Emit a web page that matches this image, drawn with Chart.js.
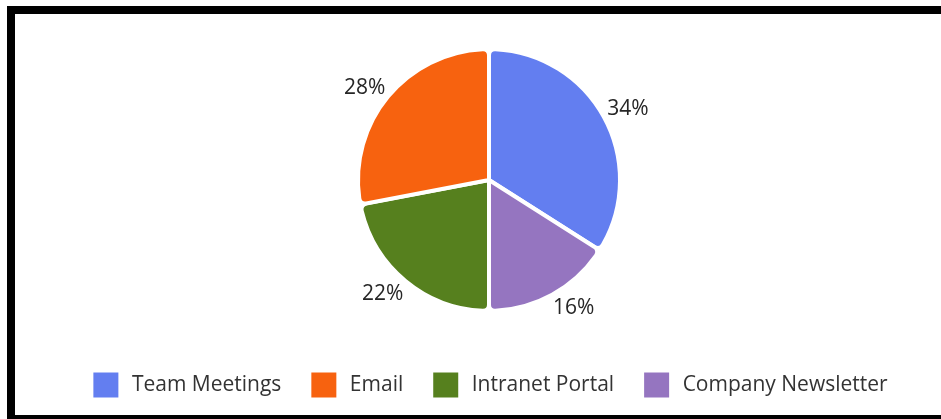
<!DOCTYPE html>
<html>
<head>
<meta charset="utf-8">
<script src="https://cdn.jsdelivr.net/npm/chart.js@4.4.1/dist/chart.umd.min.js"></script>
<style>
  html, body { margin: 0; padding: 0; background: #fff; overflow: hidden; width: 941px; height: 419px; }
  #frame { position: absolute; left: 7px; top: 6px; width: 948px; height: 401px; border: 8px solid #000; background: #fff; }
  canvas { display: block; }
</style>
</head>
<body>
<div id="frame"><canvas id="c" width="948" height="401"></canvas></div>
<script>
// Slices in drawing order (clockwise from 12 o'clock)
const categories = ['Team Meetings', 'Company Newsletter', 'Intranet Portal', 'Email'];
const shares = [34, 16, 22, 28];
const sliceColors = ['#637EF0', '#9575C0', '#56801E', '#F7620F'];
// Order of entries in the legend
const legendOrder = ['Team Meetings', 'Email', 'Intranet Portal', 'Company Newsletter'];

const FONT = "'Open Sans', 'Noto Sans', sans-serif";

const outsideLabels = {
  id: 'outsideLabels',
  afterDatasetsDraw(chart) {
    const ctx = chart.ctx;
    const meta = chart.getDatasetMeta(0);
    ctx.save();
    ctx.font = '21px ' + FONT;
    ctx.fillStyle = '#262626';
    ctx.textAlign = 'left';
    ctx.textBaseline = 'alphabetic';
    meta.data.forEach((arc, i) => {
      const p = arc.getProps(['x', 'y', 'startAngle', 'endAngle', 'outerRadius'], true);
      const mid = (p.startAngle + p.endAngle) / 2;
      const R = p.outerRadius + 4;
      const ax = p.x + Math.cos(mid) * R;
      const ay = p.y + Math.sin(mid) * R;
      const t = shares[i] + '%';
      const m = ctx.measureText(t);
      const w = m.actualBoundingBoxLeft + m.actualBoundingBoxRight;
      const h = m.actualBoundingBoxAscent + m.actualBoundingBoxDescent;
      const left = Math.cos(mid) >= 0 ? ax : ax - w;
      const top = Math.sin(mid) >= 0 ? ay : ay - h;
      ctx.fillText(t, left + m.actualBoundingBoxLeft, top + m.actualBoundingBoxAscent);
    });
    ctx.restore();
  }
};

new Chart(document.getElementById('c'), {
  type: 'pie',
  data: {
    labels: categories,
    datasets: [{
      data: shares,
      backgroundColor: sliceColors,
      borderColor: '#ffffff',
      borderWidth: 4,
      borderRadius: 6,
      hoverOffset: 0
    }]
  },
  options: {
    responsive: false,
    animation: false,
    radius: 131,
    layout: { padding: { top: 3.5, bottom: 4.5, left: 0, right: 0 } },
    plugins: {
      tooltip: { enabled: false },
      legend: {
        position: 'bottom',
        labels: {
          boxWidth: 31,
          boxHeight: 31,
          padding: 27,
          color: '#333333',
          font: { family: FONT, size: 21 },
          generateLabels(chart) {
            const items = Chart.overrides.pie.plugins.legend.labels.generateLabels(chart);
            items.forEach(it => { it.lineWidth = 6; it.strokeStyle = '#ffffff'; });
            return items;
          },
          sort: (a, b) => legendOrder.indexOf(a.text) - legendOrder.indexOf(b.text)
        }
      }
    }
  },
  plugins: [outsideLabels]
});
</script>
</body>
</html>
